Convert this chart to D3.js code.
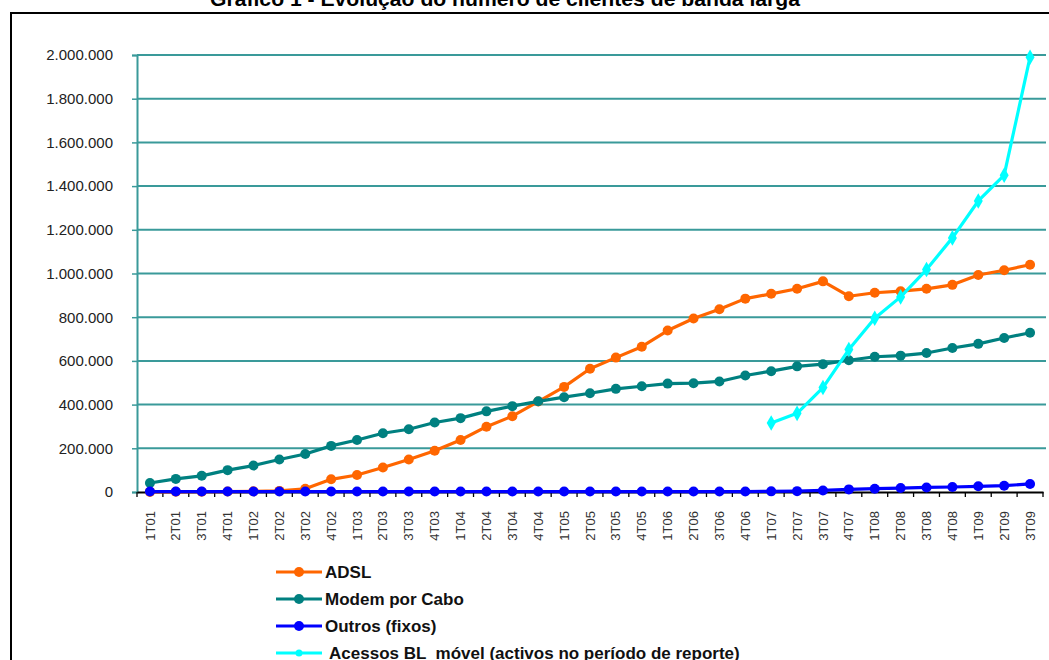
<!DOCTYPE html>
<html><head><meta charset="utf-8">
<script src="https://cdnjs.cloudflare.com/ajax/libs/d3/7.8.5/d3.min.js"></script>
<style>html,body{margin:0;padding:0;background:#fff;}svg{display:block;font-family:"Liberation Sans",Arial,sans-serif;}</style>
</head><body>
<svg id="c" width="1049" height="660"></svg>
<script>
const categories = ["1T01","2T01","3T01","4T01","1T02","2T02","3T02","4T02","1T03","2T03","3T03","4T03","1T04","2T04","3T04","4T04","1T05","2T05","3T05","4T05","1T06","2T06","3T06","4T06","1T07","2T07","3T07","4T07","1T08","2T08","3T08","4T08","1T09","2T09","3T09"];
const adsl = [500,1000,1500,2000,3000,5000,15000,58000,78000,112000,149000,189000,238000,299000,347000,414000,481000,564000,615000,665000,739000,794000,836000,885000,907000,930000,964000,896000,912000,919000,930000,948000,993000,1015000,1040000];
const cabo = [41000,60000,74000,100000,121000,149000,174000,211000,238000,269000,287000,318000,338000,369000,393000,415000,434000,452000,472000,484000,496000,498000,506000,533000,553000,575000,585000,603000,619000,624000,636000,659000,678000,705000,729000];
const outros = [2000,2000,2000,2000,2000,2000,2000,2000,2000,2000,2000,2000,2000,2000,2000,2000,2000,2000,2000,2000,2000,2000,2000,2000,3000,4000,7000,12000,15000,18000,21000,23000,26000,29000,37000];
const movel = [null,null,null,null,null,null,null,null,null,null,null,null,null,null,null,null,null,null,null,null,null,null,null,null,316000,360000,478000,652000,795000,893000,1018000,1163000,1332000,1450000,1990000];
const yTicks = [0,200000,400000,600000,800000,1000000,1200000,1400000,1600000,1800000,2000000];
const seriesNames = ["ADSL","Modem por Cabo","Outros (fixos)"," Acessos BL  móvel (activos no período de reporte)"];
const title = "Gráfico 1 - Evolução do número de clientes de banda larga";

const svg = d3.select("#c");
const colors = ["#FF6600","#008080","#0000FF","#00FFFF"];
const grid = "#3A9A9A";

// outer frame
svg.append("rect").attr("x",11).attr("y",13).attr("width",1100).attr("height",800)
  .attr("fill","none").attr("stroke","#000").attr("stroke-width",2);
// title
svg.append("text").attr("x",505).attr("y",6).attr("text-anchor","middle")
  .attr("font-size",20).attr("font-weight","bold").attr("textLength",590)
  .attr("lengthAdjust","spacingAndGlyphs").text(title);

const L=137, R=1043, T=55, B=492;
const x = d3.scaleBand().domain(categories).range([L,R]).padding(0);
const y = d3.scaleLinear().domain([0,2000000]).range([B,T]);
const cx = d => x(d)+x.bandwidth()/2;

// gridlines
svg.append("g").selectAll("line").data(yTicks.filter(v=>v>0)).join("line")
  .attr("x1",L).attr("x2",1046).attr("y1",d=>y(d)).attr("y2",d=>y(d))
  .attr("stroke",grid).attr("stroke-width",2);

// y axis
const fmt = v => v===0 ? "0" : d3.format(",")(v).replace(/,/g,".");
const ya = svg.append("g").attr("transform",`translate(${L},0)`)
  .call(d3.axisLeft(y).tickValues(yTicks).tickFormat(fmt).tickSize(5).tickPadding(19));
ya.select(".domain").attr("stroke",grid).attr("stroke-width",2);
ya.selectAll(".tick line").attr("stroke",grid).attr("stroke-width",1.5);
ya.selectAll("text").attr("font-size",15).attr("fill","#222").attr("font-family","Liberation Sans, Arial, sans-serif");

// x axis
const xa = svg.append("g").attr("transform",`translate(0,${B})`)
  .call(d3.axisBottom(x).tickSize(0).tickPadding(0));
xa.select(".domain").attr("stroke","#000").attr("stroke-width",2);
xa.selectAll(".tick text").attr("font-size",13).attr("fill","#333")
  .attr("font-family","Liberation Sans, Arial, sans-serif")
  .attr("text-anchor","end").attr("dy","0.35em")
  .attr("transform","translate(0,19) rotate(-90)");
// boundary ticks
xa.append("g").selectAll("line").data(categories.concat(["__end"])).join("line")
  .attr("x1",(d,i)=>L+i*x.bandwidth()).attr("x2",(d,i)=>L+i*x.bandwidth())
  .attr("y1",0).attr("y2",5).attr("stroke","#000").attr("stroke-width",1.3);

const data = [adsl,cabo,outros,movel];
const line = d3.line().defined(d=>d.v!=null).x(d=>cx(d.c)).y(d=>y(d.v));
data.forEach((arr,si)=>{
  const pts = categories.map((c,i)=>({c,v:arr[i]}));
  svg.append("path").datum(pts).attr("d",line).attr("fill","none")
    .attr("stroke",colors[si]).attr("stroke-width",3.2).attr("stroke-linejoin","round");
  const valid = pts.filter(d=>d.v!=null);
  if(si<3){
    svg.append("g").selectAll("circle").data(valid).join("circle")
      .attr("cx",d=>cx(d.c)).attr("cy",d=>y(d.v)).attr("r",5).attr("fill",colors[si]);
  } else {
    svg.append("g").selectAll("path").data(valid).join("path")
      .attr("transform",d=>`translate(${cx(d.c)},${y(d.v)})`)
      .attr("d",d3.symbol(d3.symbolDiamond,70)).attr("fill",colors[si]);
  }
});

// legend
const lg = svg.append("g");
seriesNames.forEach((n,i)=>{
  const yy = 572 + i*27;
  lg.append("line").attr("x1",276).attr("x2",322).attr("y1",yy).attr("y2",yy)
    .attr("stroke",colors[i]).attr("stroke-width",3);
  lg.append("circle").attr("cx",299).attr("cy",yy).attr("r",i<3?5:3.5).attr("fill",colors[i]);
  lg.append("text").attr("x",325).attr("y",yy).attr("dy","0.36em")
    .attr("font-size",17).attr("font-weight","bold").attr("fill","#111")
    .attr("xml:space","preserve").style("white-space","pre").text(n);
});
</script>
</body></html>
